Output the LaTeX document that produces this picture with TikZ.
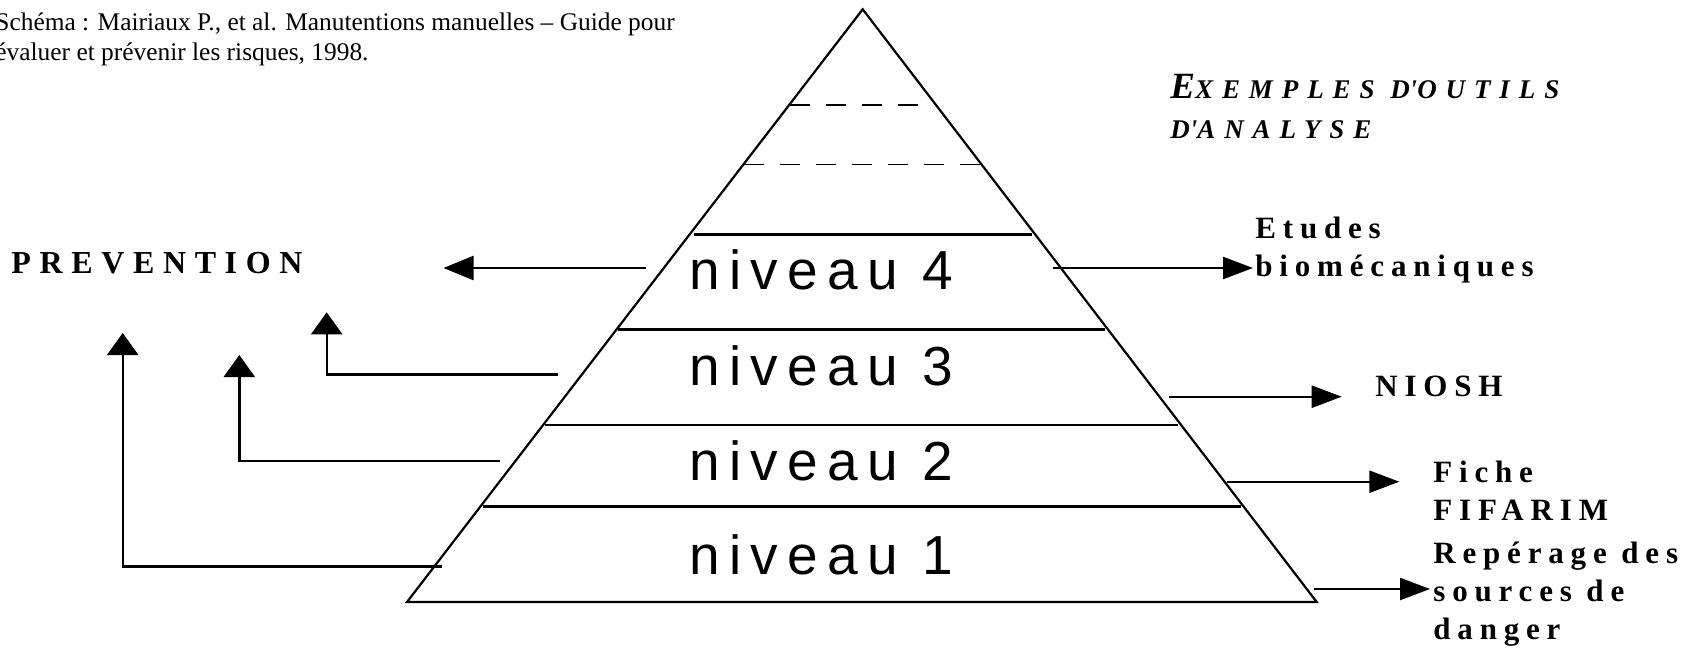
\documentclass[tikz,border=0pt]{standalone}
\usepackage{fontspec}
\usetikzlibrary{arrows.meta,calc}
\newfontfamily\lvlfont[LetterSpace=17]{Liberation Sans}
\newfontfamily\toolfont[LetterSpace=22]{Liberation Serif Bold}
\newfontfamily\prevfont[LetterSpace=27]{Liberation Serif Bold}
\newfontfamily\exfont[LetterSpace=33]{Liberation Serif Bold Italic}
\newfontfamily\citefont{Liberation Serif}
\tikzset{
  pyrside/.style={line width=1.1pt, line join=miter},
  pyrline/.style={line width=1.2pt},
  pyrdash/.style={line width=0.6pt, dash pattern=on 10pt off 8pt},
  lvl/.style={font=\lvlfont\fontsize{27.5}{30}\selectfont, inner sep=0pt, anchor=base west},
  tool/.style={font=\toolfont\fontsize{15.5}{19}\selectfont, align=left,
    inner sep=0pt, anchor=base west},
  rarr/.style={-{Triangle[length=15pt,width=11pt]}, line width=1.2pt},
  larr/.style={-{Triangle[length=15pt,width=12pt]}, line width=1.2pt},
  uarr/.style={-{Triangle[length=11pt,width=15.5pt]}, line width=1.2pt}
}
\begin{document}
\begin{tikzpicture}[x=0.5pt,y=-0.5pt]
  \useasboundingbox (0,0) rectangle (1696,648);
  % pyramide
  \coordinate (apex) at (862.7,9.3);
  \coordinate (bl) at (407,602);
  \coordinate (br) at (1316.7,602);
  \draw[pyrside] (apex) -- (bl) -- (br) -- cycle;
  \draw[pyrdash] (790,105) -- (923,105);
  \draw[pyrdash] (744,164.3) -- (981,164.3);
  \draw[pyrline] (694,234.5) -- (1032,234.5);
  \draw[pyrline] (618,329.3) -- (1105,329.3);
  \draw[pyrline] (545,425) -- (1178,425);
  \draw[pyrline] (483,506.5) -- (1241,506.5);
  \node[lvl] (n4) at (689,289) {niveau 4};
  \node[lvl] (n3) at (689,385) {niveau 3};
  \node[lvl] (n2) at (689,480) {niveau 2};
  \node[lvl] (n1) at (689,574) {niveau 1};
  % textes (base = derniere ligne)
  \node[font=\citefont\fontsize{12.7}{15.25}\selectfont, align=left, inner sep=0pt, anchor=base west]
    (src) at (-5,60.6) {Schéma : Mairiaux P., et al. Manutentions manuelles – Guide pour\\évaluer et prévenir les risques, 1998.};
  \node[tool, font=\exfont\fontsize{13.5}{20}\selectfont] (ex) at (1170,138.5)
    {{\fontsize{18.5}{20}\selectfont E}XEMPLES D\textquotesingle OUTILS\\D\textquotesingle ANALYSE};
  \node[tool, font=\prevfont\fontsize{16}{19.5}\selectfont] (prev) at (11,273.7) {PREVENTION};
  \node[tool] (bio) at (1255,276) {Etudes\\biomécaniques};
  \node[tool] (niosh) at (1375,396.7) {NIOSH};
  \node[tool] (fif) at (1433,520) {Fiche\\FIFARIM};
  \node[tool] (rep) at (1433,639) {Repérage des\\sources de\\danger};
  % fleches vers les outils
  \coordinate (o4) at (1052.5,268);  \coordinate (t4) at (1253,268);
  \coordinate (o3) at (1169,396.7);  \coordinate (t3) at (1341.7,396.7);
  \coordinate (o2) at (1226.7,481.7);\coordinate (t2) at (1399.3,481.7);
  \coordinate (o1) at (1314,589);    \coordinate (t1) at (1430,589);
  \draw[rarr] (o4) -- (t4);
  \draw[rarr] (o3) -- (t3);
  \draw[rarr] (o2) -- (t2);
  \draw[rarr] (o1) -- (t1);
  % fleches vers la prevention
  \coordinate (p4) at (645.8,268);  \coordinate (q4) at (443.5,268);
  \coordinate (p3) at (558,374.3);  \coordinate (q3) at (326.7,312.3);
  \coordinate (p2) at (499.7,460.8);\coordinate (q2) at (239.3,355);
  \coordinate (p1) at (442,566.5);  \coordinate (q1) at (122.7,333);
  \draw[larr] (p4) -- (q4);
  \draw[uarr] (p3) -| (q3);
  \draw[uarr] (p2) -| (q2);
  \draw[uarr] (p1) -| (q1);
\end{tikzpicture}
\end{document}
